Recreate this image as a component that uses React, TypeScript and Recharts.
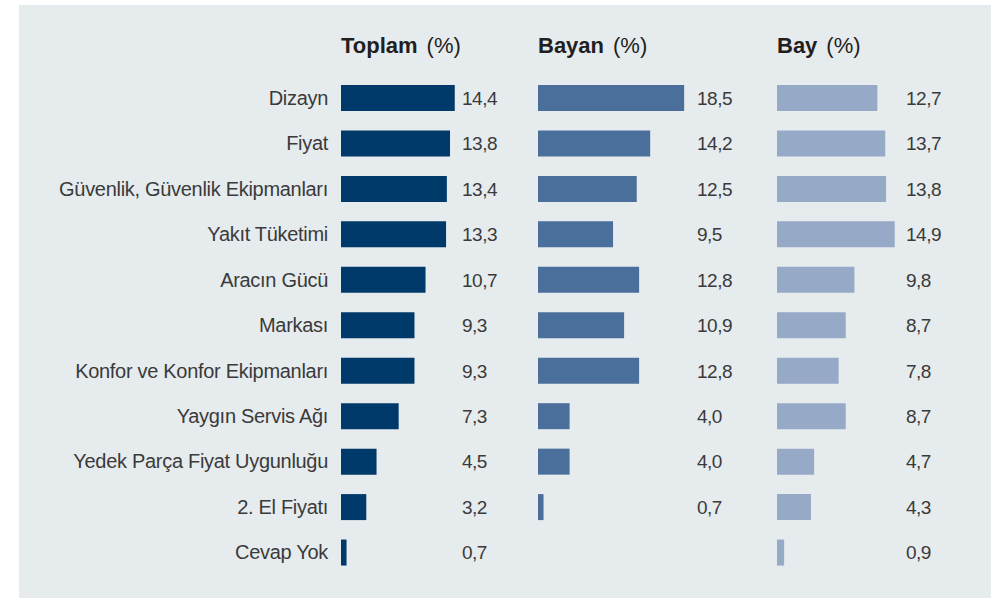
import { BarChart, Bar, XAxis, YAxis, LabelList } from 'recharts';

const categories = [
  'Dizayn',
  'Fiyat',
  'Güvenlik, Güvenlik Ekipmanları',
  'Yakıt Tüketimi',
  'Aracın Gücü',
  'Markası',
  'Konfor ve Konfor Ekipmanları',
  'Yaygın Servis Ağı',
  'Yedek Parça Fiyat Uygunluğu',
  '2. El Fiyatı',
  'Cevap Yok',
];
const toplam = [14.4, 13.8, 13.4, 13.3, 10.7, 9.3, 9.3, 7.3, 4.5, 3.2, 0.7];
const bayan = [18.5, 14.2, 12.5, 9.5, 12.8, 10.9, 12.8, 4.0, 4.0, 0.7, null];
const bay = [12.7, 13.7, 13.8, 14.9, 9.8, 8.7, 7.8, 8.7, 4.7, 4.3, 0.9];

const data = categories.map((name, i) => ({
  name,
  toplam: toplam[i],
  bayan: bayan[i],
  bay: bay[i],
}));

const FONT = '"Liberation Sans", Arial, sans-serif';
const TEXT = '#3a3a3a';

const fmt = (v: any) => (v == null ? '' : Number(v).toFixed(1).replace('.', ','));

// value labels sit in a fixed column to the right of each panel
const valueLabel = (offset: number) => (props: any) => {
  const { x, y, height, value } = props;
  if (value == null) return null;
  return (
    <text x={x + offset} y={y + height / 2} dy="0.36em" fill={TEXT} fontSize={19} fontFamily={FONT} letterSpacing={-0.5}>
      {fmt(value)}
    </text>
  );
};

const Header = ({ left, title }: { left: number; title: string }) => (
  <div
    style={{
      position: 'absolute',
      left,
      top: 35,
      fontFamily: FONT,
      fontSize: 22,
      lineHeight: '22px',
      color: '#231f20',
      whiteSpace: 'nowrap',
    }}
  >
    <span style={{ fontWeight: 'bold' }}>{title}</span>
    <span style={{ marginLeft: 9 }}>(%)</span>
  </div>
);

const Panel = ({
  left,
  dataKey,
  color,
  offset,
  yWidth,
}: {
  left: number;
  dataKey: string;
  color: string;
  offset: number;
  yWidth: number;
}) => (
  <div style={{ position: 'absolute', left, top: 0 }}>
    <BarChart
      layout="vertical"
      width={yWidth + 158 + 60}
      height={598}
      data={data}
      margin={{ top: 75, right: 60, bottom: 23, left: 0 }}
      barSize={26}
    >
      <XAxis type="number" domain={[0, 20]} hide />
      <YAxis
        type="category"
        dataKey="name"
        hide={yWidth === 0}
        width={yWidth}
        axisLine={false}
        tickLine={false}
        tickSize={0}
        tickMargin={13}
        interval={0}
        tick={{ fill: TEXT, fontSize: 20, fontFamily: FONT, letterSpacing: -0.3 }}
      />
      <Bar dataKey={dataKey} fill={color} isAnimationActive={false}>
        <LabelList dataKey={dataKey} content={valueLabel(offset)} />
      </Bar>
    </BarChart>
  </div>
);

export default function App() {
  return (
    <div style={{ position: 'absolute', left: 0, top: 0, width: 995, height: 598, background: '#ffffff', overflow: 'hidden' }}>
      <div style={{ position: 'absolute', left: 19, top: 5, width: 972, height: 593, background: '#e6ebee' }} />
      <Header left={341} title="Toplam" />
      <Header left={538} title="Bayan" />
      <Header left={777} title="Bay" />
      <Panel left={19} dataKey="toplam" color="#003a6a" offset={121} yWidth={322} />
      <Panel left={538} dataKey="bayan" color="#4a6f9b" offset={159} yWidth={0} />
      <Panel left={777} dataKey="bay" color="#96a9c7" offset={129} yWidth={0} />
    </div>
  );
}
